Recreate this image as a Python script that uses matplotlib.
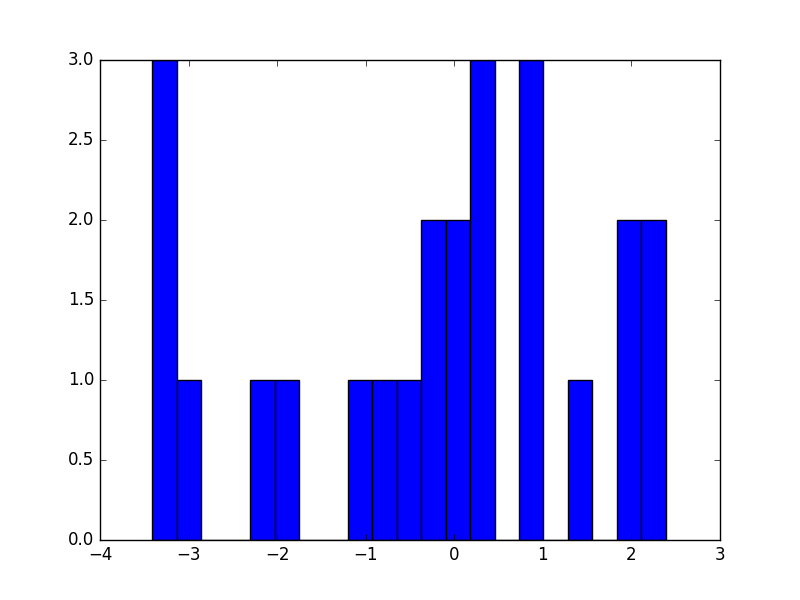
import numpy as np
import matplotlib
matplotlib.use('Agg')
import matplotlib.pyplot as plt

plt.style.use('classic')

# histogram: 21 equal bins
x_min = -3.41
x_max = 2.387
counts = [3, 1, 0, 0, 1, 1, 0, 0, 1, 1, 1, 2, 2, 3, 0, 3, 0, 1, 0, 2, 2]

edges = np.linspace(x_min, x_max, len(counts) + 1)
centers = 0.5 * (edges[:-1] + edges[1:])

fig, ax = plt.subplots(figsize=(8, 6), dpi=100)
ax.hist(centers, bins=edges, weights=counts)

ax.set_xlim(-4, 3)
ax.set_ylim(0, 3)

plt.savefig("out.png")
